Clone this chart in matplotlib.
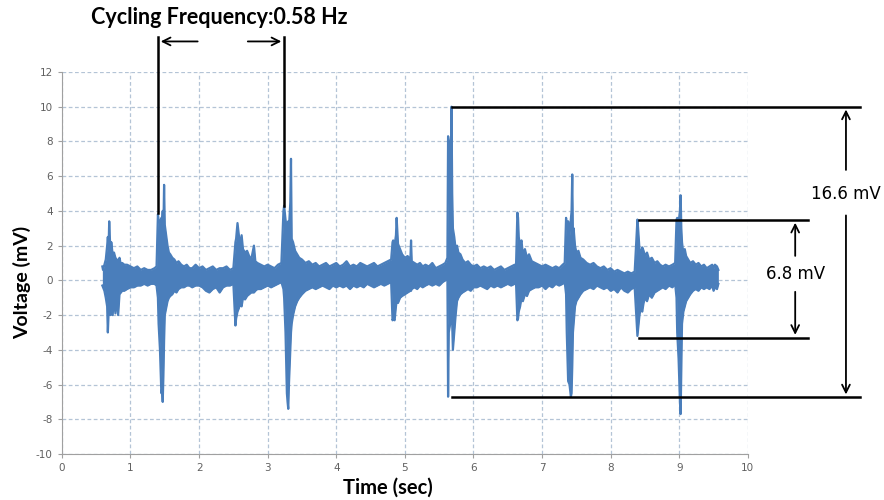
import numpy as np
import matplotlib.pyplot as plt

plt.rcParams['axes.unicode_minus'] = False

# signal envelope: time (s), upper and lower voltage (mV)
t_burst1 = [0.59, 0.60, 0.62, 0.64, 0.66, 0.67, 0.68, 0.69, 0.70, 0.71, 0.72, 0.74, 0.76, 0.78, 0.80,
            0.82, 0.84, 0.86, 0.88, 0.91, 0.95, 1.00, 1.05, 1.10, 1.15, 1.20, 1.25, 1.30, 1.35, 1.38]
hi_burst1 = [0.8, 0.6, 0.9, 1.2, 2.0, 2.5, 1.8, 3.4, 2.4, 1.6, 2.2, 1.5, 1.6, 1.3, 1.2,
             1.1, 1.3, 0.9, 1.0, 0.9, 0.9, 0.8, 0.7, 0.8, 0.6, 0.7, 0.6, 0.6, 0.7, 0.8]
lo_burst1 = [-0.3, -0.4, -0.6, -1.0, -1.5, -3.0, -2.0, -1.5, -1.2, -2.0, -1.3, -2.0, -1.0, -1.9, -0.9,
             -2.0, -0.8, -0.7, -0.6, -0.6, -0.5, -0.4, -0.4, -0.3, -0.3, -0.2, -0.3, -0.2, -0.2, -0.3]

t_burst2 = [1.40, 1.41, 1.43, 1.45, 1.46, 1.47, 1.48, 1.49, 1.50, 1.52, 1.54, 1.56, 1.58, 1.61, 1.64, 1.67, 1.70,
            1.74, 1.78, 1.82, 1.86, 1.90, 1.95, 2.00, 2.05, 2.10, 2.15, 2.20, 2.25, 2.30, 2.35, 2.40, 2.45, 2.50]
hi_burst2 = [3.8, 3.5, 3.3, 3.6, 3.4, 4.0, 3.0, 5.5, 3.2, 2.6, 2.0, 1.6, 1.5, 1.3, 1.2, 1.0, 1.1,
             0.9, 0.8, 0.9, 0.7, 0.7, 0.9, 0.7, 0.8, 0.6, 0.7, 0.8, 0.6, 0.7, 0.7, 0.8, 0.6, 0.7]
lo_burst2 = [-1.0, -2.5, -4.0, -6.5, -6.3, -7.0, -5.5, -3.5, -2.0, -1.6, -1.2, -1.0, -0.9, -0.8, -0.6, -0.7, -0.5,
             -0.4, -0.4, -0.3, -0.3, -0.4, -0.3, -0.3, -0.4, -0.6, -0.7, -0.5, -0.4, -0.7, -0.4, -0.3, -0.3, -0.2]

t_burst3 = [2.53, 2.54, 2.56, 2.58, 2.60, 2.62, 2.64, 2.67, 2.70, 2.73, 2.76, 2.80, 2.82, 2.85, 2.90,
            2.95, 3.00, 3.05, 3.10, 3.15, 3.20]
hi_burst3 = [2.2, 2.4, 3.3, 2.6, 2.0, 2.6, 1.8, 1.6, 1.7, 1.4, 1.2, 2.0, 1.1, 1.0, 0.9,
             0.8, 0.9, 0.8, 0.7, 0.9, 1.0]
lo_burst3 = [-2.6, -2.2, -1.8, -1.6, -1.3, -1.5, -1.0, -1.1, -0.9, -0.8, -0.7, -0.7, -0.6, -0.5, -0.5,
             -0.4, -0.3, -0.4, -0.3, -0.2, -0.1]

t_burst4 = [3.23, 3.24, 3.26, 3.28, 3.29, 3.30, 3.31, 3.33, 3.34, 3.35, 3.37, 3.40, 3.43, 3.46, 3.50, 3.55,
            3.60, 3.65, 3.70, 3.75, 3.80, 3.85, 3.90, 3.95, 4.00, 4.05, 4.10, 4.15, 4.20, 4.25, 4.30, 4.35,
            4.40, 4.45, 4.50, 4.55, 4.60, 4.65, 4.70, 4.75, 4.80]
hi_burst4 = [4.0, 4.3, 3.5, 3.0, 3.2, 3.4, 3.0, 4.5, 7.0, 2.4, 2.2, 1.7, 1.5, 1.3, 1.2, 1.0,
             1.1, 0.9, 1.0, 0.8, 0.9, 1.0, 0.8, 0.9, 1.0, 0.8, 0.9, 1.1, 0.8, 0.9, 0.8, 1.0,
             0.9, 0.8, 0.9, 1.0, 0.8, 0.9, 1.0, 1.1, 1.2]
lo_burst4 = [-0.5, -1.0, -3.0, -6.5, -7.0, -7.4, -6.0, -4.0, -3.0, -2.5, -2.0, -1.5, -1.2, -1.0, -0.8, -0.6,
             -0.5, -0.4, -0.5, -0.4, -0.3, -0.4, -0.5, -0.3, -0.4, -0.3, -0.4, -0.3, -0.5, -0.3, -0.4, -0.3,
             -0.4, -0.2, -0.3, -0.4, -0.3, -0.2, -0.3, -0.2, -0.1]

t_burst5 = [4.82, 4.83, 4.85, 4.87, 4.88, 4.90, 4.93, 4.96, 5.00, 5.04, 5.08, 5.09, 5.10, 5.14, 5.18,
            5.22, 5.26, 5.30, 5.35, 5.40, 5.45, 5.50, 5.55, 5.59, 5.62]
hi_burst5 = [2.2, 2.3, 2.0, 2.6, 3.6, 2.1, 1.8, 1.5, 1.3, 1.4, 1.2, 2.3, 1.1, 1.0, 0.9,
             1.0, 0.8, 0.9, 0.8, 1.0, 0.7, 0.8, 0.9, 1.0, 1.3]
lo_burst5 = [-2.3, -2.2, -2.3, -1.5, -1.2, -1.3, -1.0, -0.9, -0.8, -0.7, -0.6, -0.6, -0.5, -0.4, -0.5,
             -0.3, -0.4, -0.3, -0.2, -0.3, -0.2, -0.3, -0.1, 0.0, 0.2]

t_burst6 = [5.63, 5.64, 5.66, 5.68, 5.69, 5.70, 5.72, 5.74, 5.76, 5.78, 5.81, 5.84, 5.88, 5.92, 5.96,
            6.00, 6.05, 6.10, 6.15, 6.20, 6.25, 6.30, 6.35, 6.40, 6.45, 6.50, 6.55, 6.60, 6.62]
hi_burst6 = [8.3, 8.0, 4.0, 10.0, 5.0, 3.0, 2.5, 1.8, 2.0, 1.6, 1.5, 1.2, 1.0, 1.1, 0.9,
             0.8, 0.9, 0.7, 0.8, 0.7, 0.8, 0.6, 0.7, 0.8, 0.6, 0.7, 0.8, 0.9, 0.8]
lo_burst6 = [-6.7, -3.0, -2.5, -2.0, -2.5, -4.0, -3.0, -2.0, -1.2, -1.0, -0.8, -0.7, -0.6, -0.5, -0.6,
             -0.4, -0.4, -0.3, -0.4, -0.5, -0.3, -0.4, -0.3, -0.4, -0.3, -0.2, -0.3, -0.2, -0.1]

t_burst7 = [6.64, 6.65, 6.66, 6.68, 6.70, 6.72, 6.75, 6.78, 6.81, 6.85, 6.90, 6.95, 7.00, 7.05, 7.10,
            7.15, 7.20, 7.25, 7.30, 7.33]
hi_burst7 = [3.9, 3.6, 2.5, 2.0, 2.3, 1.5, 1.8, 1.3, 1.5, 1.1, 1.0, 0.9, 0.8, 0.9, 0.8,
             0.7, 0.8, 0.7, 0.9, 1.0]
lo_burst7 = [-2.3, -2.2, -1.8, -1.5, -1.0, -1.2, -0.8, -0.9, -0.6, -0.5, -0.4, -0.4, -0.3, -0.5, -0.3,
             -0.4, -0.2, -0.3, -0.2, -0.1]

t_burst8 = [7.35, 7.36, 7.38, 7.40, 7.42, 7.43, 7.44, 7.45, 7.46, 7.48, 7.50, 7.53, 7.56, 7.60, 7.65,
            7.70, 7.75, 7.80, 7.85, 7.90, 7.95, 8.00, 8.05, 8.10, 8.15, 8.20, 8.25, 8.30, 8.35]
hi_burst8 = [3.6, 3.0, 3.4, 2.6, 3.5, 4.0, 6.1, 2.5, 3.0, 2.0, 1.6, 1.7, 1.3, 1.2, 1.0,
             0.9, 1.0, 0.8, 0.7, 0.8, 0.6, 0.7, 0.5, 0.6, 0.5, 0.4, 0.5, 0.4, 0.5]
lo_burst8 = [-0.8, -3.0, -5.8, -6.0, -6.7, -6.5, -5.0, -3.0, -2.5, -1.5, -1.2, -1.0, -0.8, -0.6, -0.5,
             -0.4, -0.5, -0.3, -0.4, -0.5, -0.4, -0.6, -0.5, -0.7, -0.4, -0.6, -0.7, -0.5, -0.4]

t_burst9 = [8.38, 8.39, 8.40, 8.42, 8.44, 8.46, 8.48, 8.50, 8.53, 8.56, 8.60, 8.64, 8.68, 8.72, 8.76,
            8.80, 8.85, 8.90, 8.94]
hi_burst9 = [2.8, 3.5, 3.0, 1.8, 1.5, 1.9, 1.7, 1.4, 1.6, 1.2, 1.3, 1.0, 1.1, 0.9, 0.8,
             0.9, 0.8, 0.9, 1.0]
lo_burst9 = [-2.5, -3.2, -2.8, -2.0, -1.5, -1.8, -1.3, -1.0, -1.2, -0.8, -1.0, -0.7, -0.6, -0.5, -0.4,
             -0.5, -0.3, -0.4, -0.2]

t_burst10 = [8.96, 8.97, 8.99, 9.01, 9.02, 9.03, 9.04, 9.06, 9.08, 9.10, 9.13, 9.16, 9.20, 9.24, 9.28,
             9.32, 9.36, 9.40, 9.44, 9.48, 9.50, 9.52, 9.55, 9.57]
hi_burst10 = [3.5, 3.6, 3.3, 4.0, 4.9, 3.0, 2.2, 1.5, 1.8, 1.4, 1.2, 1.0, 1.1, 0.9, 1.0,
              0.8, 0.9, 0.7, 0.8, 0.9, 0.7, 0.9, 0.8, 0.6]
lo_burst10 = [-1.0, -3.0, -4.5, -7.0, -7.7, -5.0, -2.5, -1.8, -1.5, -1.2, -1.0, -0.8, -0.6, -0.5, -0.6,
              -0.4, -0.5, -0.4, -0.5, -0.3, -0.6, -0.4, -0.5, -0.2]

time = np.array(t_burst1 + t_burst2 + t_burst3 + t_burst4 + t_burst5
                + t_burst6 + t_burst7 + t_burst8 + t_burst9 + t_burst10)
v_hi = np.array(hi_burst1 + hi_burst2 + hi_burst3 + hi_burst4 + hi_burst5
                + hi_burst6 + hi_burst7 + hi_burst8 + hi_burst9 + hi_burst10)
v_lo = np.array(lo_burst1 + lo_burst2 + lo_burst3 + lo_burst4 + lo_burst5
                + lo_burst6 + lo_burst7 + lo_burst8 + lo_burst9 + lo_burst10)

# annotation values
freq_marks = [1.40, 3.24]          # cycle markers (s)
freq_mark_bottoms = [3.9, 4.3]
big_pp = [10.0, -6.73]             # 16.6 mV peak-to-peak
small_pp = [3.48, -3.3]            # 6.8 mV peak-to-peak

blue = '#4a7ebb'
fig = plt.figure(figsize=(8.84, 5.0), dpi=100)
ax = fig.add_axes([0.070, 0.092, 0.776, 0.764])

ax.fill_between(time, v_lo, v_hi, color=blue, lw=0, zorder=2)
ax.plot(time, v_hi, color=blue, lw=1.6, zorder=2)
ax.plot(time, v_lo, color=blue, lw=1.6, zorder=2)

ax.set_xlim(0, 10)
ax.set_ylim(-10, 12)
ax.set_xticks(np.arange(0, 11, 1))
ax.set_yticks(np.arange(-10, 13, 2))
ax.grid(True, color='#b4c4d6', linestyle=(0, (3, 2)), lw=0.9, zorder=0)
ax.set_axisbelow(True)
for s in ['top', 'right']:
    ax.spines[s].set_visible(False)
for s in ['left', 'bottom']:
    ax.spines[s].set_color('#a0a0a0')
ax.tick_params(colors='#a0a0a0', labelcolor='#606060', labelsize=7.5, length=3)

fig.text(0.025, 0.436, 'Voltage (mV)', rotation=90, ha='center', va='center',
         fontsize=14, fontweight='bold', family='Lato')
fig.text(0.439, 0.024, 'Time (sec)', ha='center', va='center',
         fontsize=14.5, fontweight='bold', family='Lato')
fig.text(0.248, 0.964, 'Cycling Frequency:0.58 Hz', ha='center', va='center',
         fontsize=15.5, fontweight='bold', family='Lato')

arrow = dict(arrowstyle='->', color='black', lw=1.3, mutation_scale=14)

# cycling frequency markers
for x0, yb in zip(freq_marks, freq_mark_bottoms):
    ax.plot([x0, x0], [yb, 14.0], color='black', lw=1.8, clip_on=False, zorder=5)
ax.annotate('', xy=(freq_marks[0], 13.76), xytext=(2.02, 13.76),
            arrowprops=arrow, annotation_clip=False)
ax.annotate('', xy=(freq_marks[1], 13.76), xytext=(2.67, 13.76),
            arrowprops=arrow, annotation_clip=False)

# 16.6 mV bracket
for yv in big_pp:
    ax.plot([5.69, 11.64], [yv, yv], color='black', lw=1.8, clip_on=False, zorder=5)
ax.annotate('', xy=(11.43, big_pp[0]), xytext=(11.43, 6.2),
            arrowprops=arrow, annotation_clip=False)
ax.annotate('', xy=(11.43, big_pp[1]), xytext=(11.43, 3.9),
            arrowprops=arrow, annotation_clip=False)
ax.text(11.43, 5.0, '16.6 mV', ha='center', va='center', fontsize=12, clip_on=False)

# 6.8 mV bracket
for yv in small_pp:
    ax.plot([8.41, 10.88], [yv, yv], color='black', lw=1.8, clip_on=False, zorder=5)
ax.annotate('', xy=(10.69, small_pp[0]), xytext=(10.69, 1.25),
            arrowprops=arrow, annotation_clip=False)
ax.annotate('', xy=(10.69, small_pp[1]), xytext=(10.69, -0.5),
            arrowprops=arrow, annotation_clip=False)
ax.text(10.69, 0.37, '6.8 mV', ha='center', va='center', fontsize=12, clip_on=False)

plt.savefig('out.png', dpi=100)
